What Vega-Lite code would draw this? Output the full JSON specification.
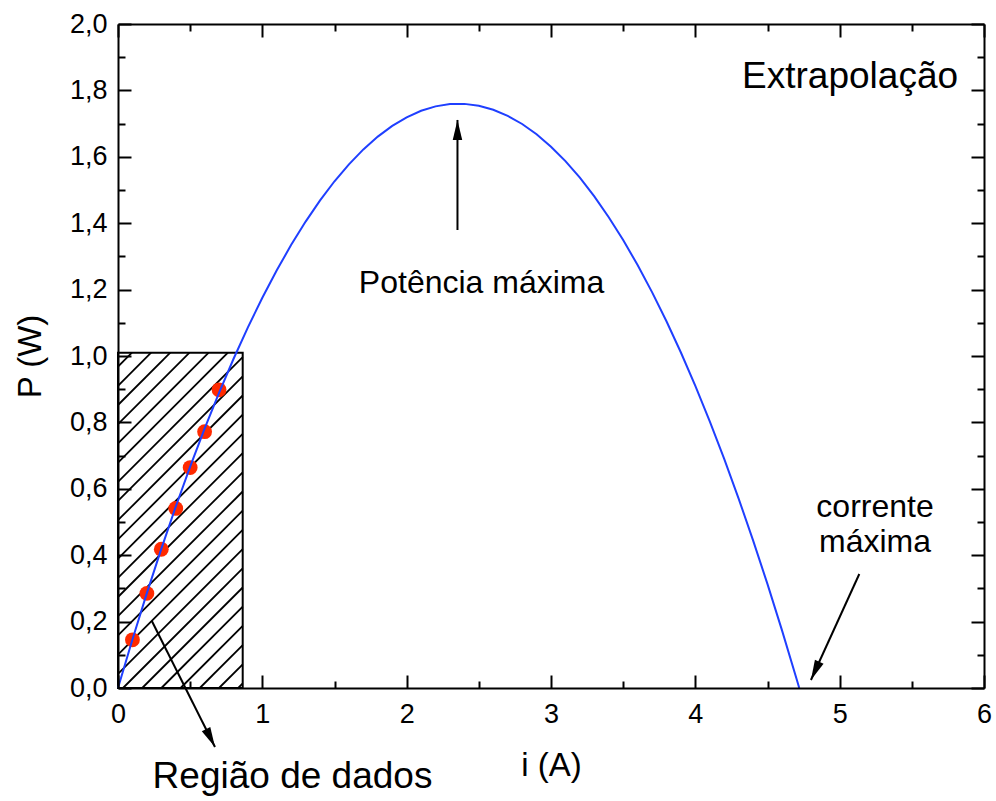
{
  "$schema": "https://vega.github.io/schema/vega-lite/v6.json",
  "width": 866,
  "height": 664,
  "autosize": {"type": "none"},
  "padding": {"left": 118, "top": 24, "right": 12, "bottom": 113},
  "background": "white",
  "config": {
    "font": "Liberation Sans",
    "view": {"stroke": null},
    "axis": {
      "grid": false,
      "domainColor": "black",
      "domainWidth": 2,
      "tickColor": "black",
      "tickWidth": 2,
      "labelColor": "black",
      "labelFont": "Liberation Sans",
      "labelFontSize": 27,
      "labelOverlap": false,
      "labelFlush": false,
      "labelBound": false,
      "titleFont": "Liberation Sans",
      "titleFontSize": 33,
      "titleFontWeight": "normal",
      "titleColor": "black"
    }
  },
  "datasets": {
    "curve": [
      {"i": 0, "P": 0}, {"i": 0.1, "P": 0.146}, {"i": 0.2, "P": 0.2857}, {"i": 0.3, "P": 0.419},
      {"i": 0.4, "P": 0.546}, {"i": 0.5, "P": 0.6668}, {"i": 0.6, "P": 0.7811}, {"i": 0.7, "P": 0.8892},
      {"i": 0.8, "P": 0.991}, {"i": 0.9, "P": 1.0864}, {"i": 1.0, "P": 1.1755}, {"i": 1.1, "P": 1.2583},
      {"i": 1.2, "P": 1.3348}, {"i": 1.3, "P": 1.4049}, {"i": 1.4, "P": 1.4687}, {"i": 1.5, "P": 1.5263},
      {"i": 1.6, "P": 1.5774}, {"i": 1.7, "P": 1.6223}, {"i": 1.8, "P": 1.6609}, {"i": 1.9, "P": 1.6931},
      {"i": 2.0, "P": 1.719}, {"i": 2.1, "P": 1.7386}, {"i": 2.2, "P": 1.7519}, {"i": 2.3, "P": 1.7588},
      {"i": 2.4, "P": 1.7594}, {"i": 2.5, "P": 1.7538}, {"i": 2.6, "P": 1.7417}, {"i": 2.7, "P": 1.7234},
      {"i": 2.8, "P": 1.6988}, {"i": 2.9, "P": 1.6678}, {"i": 3.0, "P": 1.6305}, {"i": 3.1, "P": 1.5869},
      {"i": 3.2, "P": 1.537}, {"i": 3.3, "P": 1.4807}, {"i": 3.4, "P": 1.4181}, {"i": 3.5, "P": 1.3493},
      {"i": 3.6, "P": 1.274}, {"i": 3.7, "P": 1.1925}, {"i": 3.8, "P": 1.1047}, {"i": 3.9, "P": 1.0105},
      {"i": 4.0, "P": 0.91}, {"i": 4.1, "P": 0.8032}, {"i": 4.2, "P": 0.6901}, {"i": 4.3, "P": 0.5706},
      {"i": 4.4, "P": 0.4448}, {"i": 4.5, "P": 0.3128}, {"i": 4.6, "P": 0.1743}, {"i": 4.7, "P": 0.0296},
      {"i": 4.72, "P": 0}
    ],
    "measured": [
      {"i": 0.1, "P": 0.145}, {"i": 0.2, "P": 0.285}, {"i": 0.3, "P": 0.418}, {"i": 0.4, "P": 0.541},
      {"i": 0.5, "P": 0.664}, {"i": 0.6, "P": 0.772}, {"i": 0.7, "P": 0.898}
    ],
    "region": [{"x0": 0, "x1": 0.864, "y0": 0, "y1": 1.01}],
    "hatch": [
      {"x0": 0, "y0": 0.9681, "x1": 0.0963, "y1": 1.01},
      {"x0": 0, "y0": 0.9102, "x1": 0.2293, "y1": 1.01},
      {"x0": 0, "y0": 0.8524, "x1": 0.3624, "y1": 1.01},
      {"x0": 0, "y0": 0.7946, "x1": 0.4954, "y1": 1.01},
      {"x0": 0, "y0": 0.7367, "x1": 0.6284, "y1": 1.01},
      {"x0": 0, "y0": 0.6789, "x1": 0.7614, "y1": 1.01},
      {"x0": 0, "y0": 0.6211, "x1": 0.864, "y1": 0.9967},
      {"x0": 0, "y0": 0.5633, "x1": 0.864, "y1": 0.9389},
      {"x0": 0, "y0": 0.5054, "x1": 0.864, "y1": 0.881},
      {"x0": 0, "y0": 0.4476, "x1": 0.864, "y1": 0.8232},
      {"x0": 0, "y0": 0.3898, "x1": 0.864, "y1": 0.7654},
      {"x0": 0, "y0": 0.3319, "x1": 0.864, "y1": 0.7075},
      {"x0": 0, "y0": 0.2741, "x1": 0.864, "y1": 0.6497},
      {"x0": 0, "y0": 0.2163, "x1": 0.864, "y1": 0.5919},
      {"x0": 0, "y0": 0.1584, "x1": 0.864, "y1": 0.534},
      {"x0": 0, "y0": 0.1006, "x1": 0.864, "y1": 0.4762},
      {"x0": 0, "y0": 0.0428, "x1": 0.864, "y1": 0.4184},
      {"x0": 0.0346, "y0": 0, "x1": 0.864, "y1": 0.3605},
      {"x0": 0.1677, "y0": 0, "x1": 0.864, "y1": 0.3027},
      {"x0": 0.3007, "y0": 0, "x1": 0.864, "y1": 0.2449},
      {"x0": 0.4337, "y0": 0, "x1": 0.864, "y1": 0.187},
      {"x0": 0.5668, "y0": 0, "x1": 0.864, "y1": 0.1292},
      {"x0": 0.6998, "y0": 0, "x1": 0.864, "y1": 0.0714},
      {"x0": 0.8328, "y0": 0, "x1": 0.864, "y1": 0.0136}
    ],
    "arrows": [
      {"name": "pmax", "x0": 2.352, "y0": 1.3795, "x1": 2.352, "y1": 1.711},
      {"name": "dados", "x0": 0.2335, "y0": 0.2027, "x1": 0.672, "y1": -0.1777},
      {"name": "imax", "x0": 5.136, "y0": 0.3434, "x1": 4.801, "y1": 0.0241}
    ],
    "notes": [
      {"label": "Potência máxima", "x": 2.519, "y": 1.19},
      {"label": "corrente", "x": 5.245, "y": 0.515},
      {"label": "máxima", "x": 5.245, "y": 0.4096}
    ],
    "headings": [
      {"label": "Extrapolação", "x": 5.072, "y": 1.806},
      {"label": "Região de dados", "x": 1.209, "y": -0.3}
    ]
  },
  "resolve": {"axis": {"x": "independent", "y": "independent"}},
  "layer": [
    {
      "data": {"name": "hatch"},
      "mark": {"type": "rule", "color": "black", "strokeWidth": 1.8},
      "encoding": {
        "x": {
          "field": "x0", "type": "quantitative",
          "scale": {"domain": [0, 6], "nice": false, "zero": false},
          "axis": {
            "orient": "bottom", "zindex": 1,
            "values": [0, 0.5, 1, 1.5, 2, 2.5, 3, 3.5, 4, 4.5, 5, 5.5, 6],
            "tickSize": {"condition": {"test": "datum.value % 1 === 0", "value": -13}, "value": -7},
            "labelExpr": "datum.value % 1 === 0 ? format(datum.value, 'd') : ''",
            "labelPadding": 26,
            "title": "i (A)", "titlePadding": 16
          }
        },
        "y": {
          "field": "y0", "type": "quantitative",
          "scale": {"domain": [0, 2], "nice": false, "zero": false},
          "axis": {
            "orient": "left", "zindex": 1,
            "values": [0, 0.1, 0.2, 0.3, 0.4, 0.5, 0.6, 0.7, 0.8, 0.9, 1, 1.1, 1.2, 1.3, 1.4, 1.5, 1.6, 1.7, 1.8, 1.9, 2],
            "tickSize": {"condition": {"test": "round(datum.value * 10) % 2 === 0", "value": -13}, "value": -7},
            "labelExpr": "round(datum.value * 10) % 2 === 0 ? replace(format(datum.value, '.1f'), '.', ',') : ''",
            "labelPadding": 24,
            "title": "P (W)", "titlePadding": 22
          }
        },
        "x2": {"field": "x1"},
        "y2": {"field": "y1"}
      }
    },
    {
      "data": {"name": "region"},
      "mark": {"type": "rect", "fillOpacity": 0, "stroke": "black", "strokeWidth": 2},
      "encoding": {
        "x": {
          "field": "x0", "type": "quantitative",
          "axis": {
            "orient": "top", "zindex": 1, "labels": false, "title": null,
            "values": [0, 0.5, 1, 1.5, 2, 2.5, 3, 3.5, 4, 4.5, 5, 5.5, 6],
            "tickSize": {"condition": {"test": "datum.value % 1 === 0", "value": -13}, "value": -7}
          }
        },
        "x2": {"field": "x1"},
        "y": {
          "field": "y0", "type": "quantitative",
          "axis": {
            "orient": "right", "zindex": 1, "labels": false, "title": null,
            "values": [0, 0.1, 0.2, 0.3, 0.4, 0.5, 0.6, 0.7, 0.8, 0.9, 1, 1.1, 1.2, 1.3, 1.4, 1.5, 1.6, 1.7, 1.8, 1.9, 2],
            "tickSize": {"condition": {"test": "round(datum.value * 10) % 2 === 0", "value": -13}, "value": -7}
          }
        },
        "y2": {"field": "y1"}
      }
    },
    {
      "data": {"name": "measured"},
      "mark": {"type": "circle", "color": "#ff2a00", "size": 220, "opacity": 1},
      "encoding": {
        "x": {"field": "i", "type": "quantitative", "axis": null},
        "y": {"field": "P", "type": "quantitative", "axis": null}
      }
    },
    {
      "data": {"name": "curve"},
      "mark": {"type": "line", "color": "#1f3fff", "strokeWidth": 2},
      "encoding": {
        "x": {"field": "i", "type": "quantitative", "axis": null},
        "y": {"field": "P", "type": "quantitative", "axis": null}
      }
    },
    {
      "data": {"name": "arrows"},
      "mark": {"type": "rule", "color": "black", "strokeWidth": 2},
      "encoding": {
        "x": {"field": "x0", "type": "quantitative", "axis": null},
        "y": {"field": "y0", "type": "quantitative", "axis": null},
        "x2": {"field": "x1"},
        "y2": {"field": "y1"}
      }
    },
    {
      "data": {"name": "arrows"},
      "transform": [{"filter": "datum.name === 'pmax'"}],
      "mark": {"type": "point", "shape": "M0,0L0.475,2L-0.475,2Z", "filled": true, "color": "black", "opacity": 1, "size": 400, "angle": 0},
      "encoding": {
        "x": {"field": "x1", "type": "quantitative", "axis": null},
        "y": {"field": "y1", "type": "quantitative", "axis": null}
      }
    },
    {
      "data": {"name": "arrows"},
      "transform": [{"filter": "datum.name === 'dados'"}],
      "mark": {"type": "point", "shape": "M0,0L0.475,2L-0.475,2Z", "filled": true, "color": "black", "opacity": 1, "size": 400, "angle": 153.4},
      "encoding": {
        "x": {"field": "x1", "type": "quantitative", "axis": null},
        "y": {"field": "y1", "type": "quantitative", "axis": null}
      }
    },
    {
      "data": {"name": "arrows"},
      "transform": [{"filter": "datum.name === 'imax'"}],
      "mark": {"type": "point", "shape": "M0,0L0.475,2L-0.475,2Z", "filled": true, "color": "black", "opacity": 1, "size": 400, "angle": 204.5},
      "encoding": {
        "x": {"field": "x1", "type": "quantitative", "axis": null},
        "y": {"field": "y1", "type": "quantitative", "axis": null}
      }
    },
    {
      "data": {"name": "notes"},
      "mark": {"type": "text", "font": "Liberation Sans", "fontSize": 32, "color": "black", "align": "center", "baseline": "alphabetic"},
      "encoding": {
        "x": {"field": "x", "type": "quantitative", "axis": null},
        "y": {"field": "y", "type": "quantitative", "axis": null},
        "text": {"field": "label"}
      }
    },
    {
      "data": {"name": "headings"},
      "mark": {"type": "text", "font": "Liberation Sans", "fontSize": 37, "color": "black", "align": "center", "baseline": "alphabetic"},
      "encoding": {
        "x": {"field": "x", "type": "quantitative", "axis": null},
        "y": {"field": "y", "type": "quantitative", "axis": null},
        "text": {"field": "label"}
      }
    }
  ]
}
